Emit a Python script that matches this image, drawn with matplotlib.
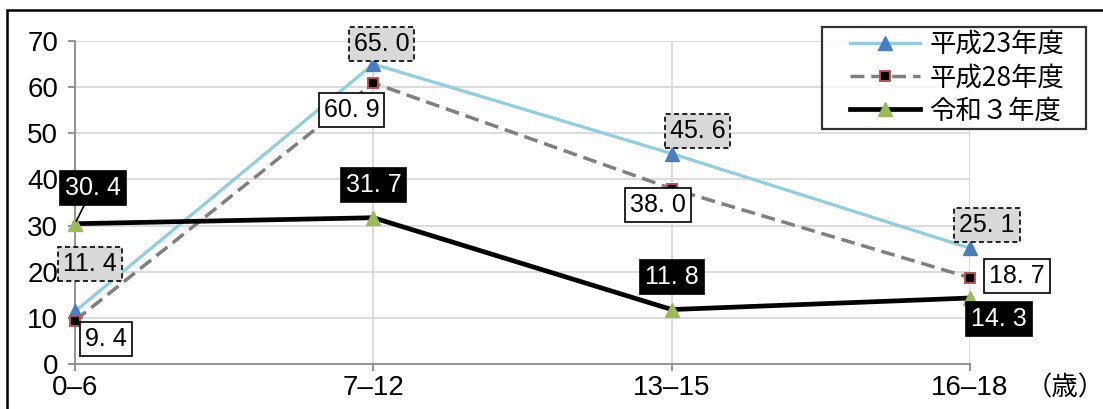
import matplotlib
matplotlib.use("Agg")
import matplotlib.pyplot as plt
from matplotlib.patches import Rectangle
from matplotlib.legend_handler import HandlerLine2D
from matplotlib import font_manager

# --- data -------------------------------------------------------------
age_groups = ["0\u20136", "7\u201312", "13\u201315", "16\u201318"]
series_names = ["平成23年度", "平成28年度", "令和３年度"]
h23 = [11.4, 65.0, 45.6, 25.1]
h28 = [9.4, 60.9, 38.0, 18.7]
r03 = [30.4, 31.7, 11.8, 14.3]
y_ticks = [0, 10, 20, 30, 40, 50, 60, 70]

# --- fonts ------------------------------------------------------------
available = {f.name for f in font_manager.fontManager.ttflist}
num_font = "Liberation Sans Narrow" if "Liberation Sans Narrow" in available else "Liberation Sans"
cjk_font = "Noto Sans CJK JP"
plt.rcParams["font.family"] = [num_font, cjk_font, "DejaVu Sans"]

W, H, DPI = 1103, 409, 100
fig = plt.figure(figsize=(W / DPI, H / DPI), dpi=DPI)

left, right = 75 / W, 970 / W
bottom, top = (H - 364) / H, (H - 41) / H
ax = fig.add_axes([left, bottom, right - left, top - bottom])

x = list(range(len(age_groups)))

# --- lines --------------------------------------------------------------
ax.plot(x, h23, color="#8fcde0", lw=2.3, marker="^", ms=10,
        mfc="#4a7ebf", mec="#4a7ebf", label=series_names[0], zorder=3,
        clip_on=False)
ax.plot(x, h28, color="#7f7f7f", lw=2.5, ls=(0, (4, 2)), marker="s", ms=7.5,
        mfc="black", mec="#c0504d", mew=1.4, label=series_names[1], zorder=4,
        clip_on=False)
ax.plot(x, r03, color="black", lw=3.4, marker="^", ms=10,
        mfc="#9bbb59", mec="#9bbb59", label=series_names[2], zorder=5,
        clip_on=False)

# --- axes styling -------------------------------------------------------
ax.set_xlim(0, 3)
ax.set_ylim(0, 70)
ax.set_yticks(y_ticks)
ax.set_xticks(x)
ax.set_xticklabels(age_groups)
ax.grid(True, color="#d9d9d9", lw=1.3)
ax.set_axisbelow(True)
for s in ("top", "right"):
    ax.spines[s].set_visible(False)
for s in ("left", "bottom"):
    ax.spines[s].set_color("#8c8c8c")
    ax.spines[s].set_linewidth(1.3)
ax.tick_params(axis="both", colors="#8c8c8c", length=5, width=1.3,
               labelcolor="black", labelsize=20)
ax.tick_params(axis="y", pad=7)
ax.tick_params(axis="x", pad=3)

# --- value labels -------------------------------------------------------
box_styles = {
    0: dict(boxstyle="square,pad=0.2", fc="#d9d9d9", ec="black", lw=1.2, ls=(0, (3, 2))),
    1: dict(boxstyle="square,pad=0.2", fc="white", ec="black", lw=1.2),
    2: dict(boxstyle="square,pad=0.2", fc="black", ec="black", lw=1.2),
}
text_colors = {0: "black", 1: "black", 2: "white"}

# label offsets in pixels (dx, dy) for each series / category
offsets = {
    0: [(15, 47), (8, 20), (26, 23), (17, 23)],
    1: [(31, -18), (-22, -27), (-14, -16), (47, 2)],
    2: [(18, 36), (0, 33), (0, 33), (29, -21)],
}
for si, vals in enumerate([h23, h28, r03]):
    for ci, v in enumerate(vals):
        dx, dy = offsets[si][ci]
        arrow = None
        if si == 2 and ci == 0:
            arrow = dict(arrowstyle="-", color="black", lw=1.2,
                         shrinkA=0, shrinkB=2)
        ax.annotate(f"{v:.1f}".replace(".", ". "), xy=(ci, v), xytext=(dx, dy),
                    textcoords="offset pixels", ha="center", va="center",
                    fontsize=18, color=text_colors[si], bbox=box_styles[si],
                    arrowprops=arrow, annotation_clip=False, zorder=6)

# --- legend -------------------------------------------------------------
leg = ax.legend(loc="upper left",
                bbox_to_anchor=(822 / W, (H - 128) / H, 264 / W, 101 / H),
                bbox_transform=fig.transFigure, mode="expand",
                frameon=True, fancybox=False,
                edgecolor="black", handlelength=3.56, handletextpad=0.35,
                borderpad=0.15, labelspacing=0.24, borderaxespad=0,
                handler_map={l: HandlerLine2D(xpad=0.9) for l in ax.get_lines()},
                prop=dict(family=[cjk_font], size=19))
leg.get_frame().set_linewidth(1.6)
leg.set_zorder(10)

# unit label
fig.text(1065 / W, (H - 388) / H, "（歳）", ha="center", va="center",
         fontsize=19, family=[cjk_font])

# outer frame
fig.patches.append(Rectangle((7 / W, -0.05), 1.1, (H - 10) / H + 0.05,
                             transform=fig.transFigure, fill=False,
                             ec="black", lw=1.8, zorder=0))

fig.savefig("out.png", dpi=DPI)
